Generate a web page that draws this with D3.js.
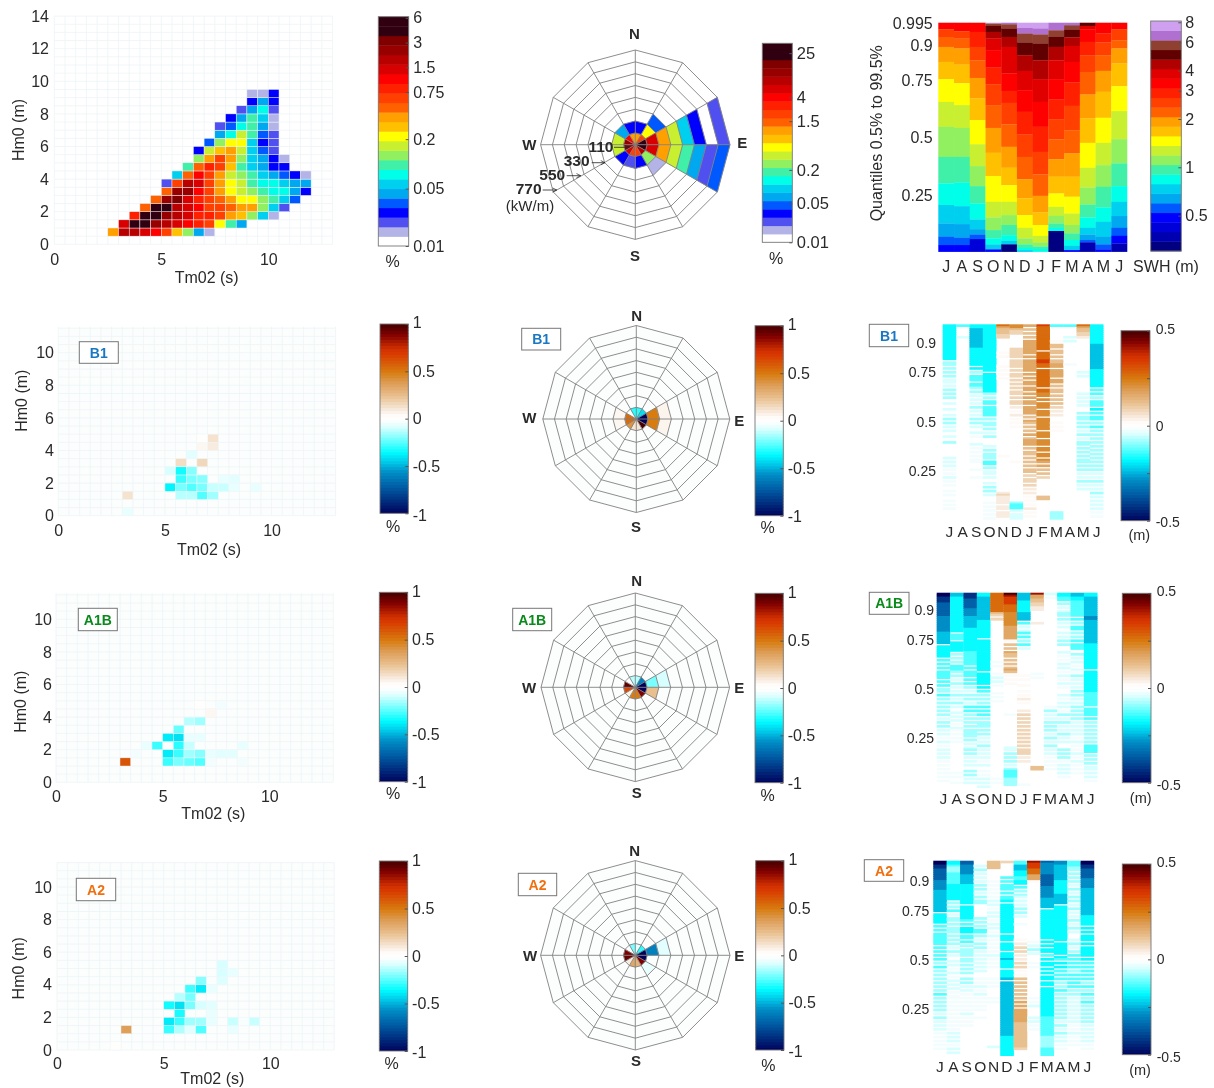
<!DOCTYPE html>
<html><head><meta charset="utf-8">
<script src="https://cdn.jsdelivr.net/npm/d3@7/dist/d3.min.js"></script>
<style>
html,body{margin:0;padding:0;background:#fff}
svg{display:block;filter:blur(0.4px)}
text{font-family:"Liberation Sans",Arial,sans-serif;fill:#2a2a2a}
.domain{display:none}
</style></head><body><svg id="c" width="1214" height="1088"></svg>
<script>
// ---------- DATA ----------
const months = ["J","A","S","O","N","D","J","F","M","A","M","J"];
const seqPalette = ["#ffffff","#b3b3e8","#5050f0","#0000ff","#0058ff","#00a8f0","#00d0f0","#00ffe8","#40f0a8","#90f060","#c8f030","#ffff00","#ffc000","#ffa000","#ff6000","#ff4000","#ff2000","#ff0000","#d80000","#b80000","#980000","#800000","#300010","#300010"];
const swhPalette = ["#000080","#0000b0","#0000d8","#0000ff","#0058ff","#00a8f0","#00d0f0","#00ffe8","#40f0a8","#90f060","#c8f030","#ffff00","#ffc000","#ffa000","#ff6000","#ff4000","#ff2000","#ff0000","#e00000","#b00000","#600000","#904030","#b070d0","#d0a0f0"];
const divStops = [-1,-0.85,-0.7,-0.55,-0.45,-0.35,-0.25,-0.15,-0.08,-0.03,0,0.04,0.1,0.25,0.4,0.5,0.7,0.75,0.9,1];
const divColors = ["#00005a","#003080","#0060a8","#0090c8","#00c8e8","#00fbff","#50ffff","#a0ffff","#d8ffff","#f4fdfe","#ffffff","#fffdfb","#f8ece0","#e8c090","#dc9a50","#d87c10","#d83a00","#d03000","#800000","#480000"];

// joint distribution, top panel: class index per cell, by Hm0 row
const hmLower = [0.5,1,1.5,2,2.5,3,3.5,4,4.5,5,5.5,6,6.5,7,7.5,8,8.5,9];
const tmStart = [2.5,3,3.5,4,4.5,5,5,5.5,6,6.5,6.5,7,7.5,7.5,8,8.5,9,9];
const scatterLevels = [
 [13,19,19,18,17,15,12,9,5,1],
 [18,22,22,20,19,18,17,16,15,11,8,5],
 [16,22,22,20,19,18,16,16,15,13,12,9,6,1],
 [14,22,22,19,18,17,15,15,14,13,13,9,6,2],
 [14,20,21,18,16,15,14,13,11,11,9,8,6,4],
 [14,20,20,17,15,13,11,10,9,8,7,7,5,3],
 [2,15,19,18,15,13,11,10,8,7,7,6,5,5],
 [6,14,17,15,13,10,9,8,6,5,4,3,1],
 [8,14,16,15,12,8,6,5,3,3],
 [9,13,15,13,9,6,5,3,1],
 [3,10,12,13,10,6,4,2],
 [4,9,11,11,6,3,2],
 [5,7,10,8,4,2],
 [2,4,7,8,5,1],
 [3,5,8,6,1],
 [2,5,7,2],
 [3,5,3],
 [1,1,3]
];
// joint distribution, differences [Tm02, Hm0, %]
const scatterB1 = [[3,1,0.13],[3,0,-0.05],[5.5,1,-0.12],[6,1,-0.12],[6.5,1,-0.25],[7,1,-0.15],[5,1.5,-0.36],[5.5,1.5,-0.2],[6,1.5,-0.25],[6.5,1.5,-0.2],[7,1.5,-0.1],[7.5,1.5,-0.1],[8,1.5,-0.05],[9,1.5,-0.05],[5.5,2,-0.28],[6,2,-0.2],[6.5,2,-0.18],[7.5,2,-0.05],[8,2,-0.06],[5,2.5,-0.08],[5.5,2.5,-0.33],[6,2.5,-0.18],[5.5,3,0.15],[6.5,3,0.17],[6,3.5,-0.06],[6.5,4,0.06],[7,4,0.1],[7,4.5,0.13],[6.5,4.5,0.02]];
const scatterA1B = [[3,1,0.62],[5,1,-0.28],[5.5,1,-0.2],[6,1,-0.22],[6.5,1,-0.25],[7,1,-0.03],[8.5,1,-0.03],[5,1.5,-0.38],[5.5,1.5,-0.28],[6,1.5,-0.15],[6.5,1.5,-0.18],[7,1.5,-0.05],[7.5,1.5,-0.06],[8,1.5,-0.06],[3.5,1.5,-0.03],[4,2,-0.05],[4.5,2,-0.28],[5.5,2,-0.3],[6,2,-0.1],[8.5,2,-0.05],[5,2.5,-0.38],[5.5,2.5,-0.4],[6,2.5,-0.05],[6.5,2.5,-0.05],[5.5,3,-0.22],[6,3.5,-0.12],[6.5,3.5,-0.15],[7,4,0.06],[6.5,4.5,0.02],[7.5,4.5,-0.03]];
const scatterA2 = [[3,1,0.38],[2.5,0,0.03],[5,1,-0.28],[5.5,1,-0.13],[6,1,-0.06],[6.5,1,-0.25],[8,1,-0.05],[5,1.5,-0.38],[5.5,1.5,-0.28],[6,1.5,-0.15],[6.5,1.5,-0.15],[7,1.5,-0.05],[8,1.5,-0.1],[9,1.5,-0.1],[8.5,1.5,-0.02],[5.5,2,-0.32],[7,2,-0.05],[5,2.5,-0.33],[5.5,2.5,-0.4],[6,2.5,-0.2],[6.5,2.5,-0.08],[7,2.5,-0.06],[5.5,3,-0.12],[6,3,-0.2],[6,3.5,-0.27],[6.5,3.5,-0.38],[7,3.5,-0.05],[6.5,4,-0.18],[7.5,4,-0.07],[7.5,4.5,-0.08],[8,4.5,-0.05],[7.5,5,-0.08]];

// polar: rows are power rings (110 kW/m wide), columns are 30-degree sectors clockwise from north
const ringValues = [110,220,330,440,550,660,770,880];
const polarLevels = [
 [13,15,22,22,19,15,15,18,20,20,17,13],
 [3,11,18,18,9,3,2,3,10,10,5,3],
 [0,4,13,13,1,0,0,0,0,0,0,0],
 [0,0,10,10,0,0,0,0,0,0,0,0],
 [0,0,6,8,0,0,0,0,0,0,0,0],
 [0,0,3,5,0,0,0,0,0,0,0,0],
 [0,0,0,2,0,0,0,0,0,0,0,0],
 [0,0,2,4,0,0,0,0,0,0,0,0]
];
const polarB1 = [
 [-0.3,-0.4,-1,-1,1,0.12,0.12,0.42,0.55,0.55,0,-0.3],
 [0,0,0.5,0.5,0,0,0,0,0.06,0.06,0,0],
 [0,0,0.07,0.07,0,0,0,0,0,0,0,0]
];
const polarA1B = [
 [-0.12,-0.6,-1,-1,0.9,0.5,0.5,0.08,0.65,0.95,0.02,-0.12],
 [0,0,-0.2,0.25,0,0,0,0,0,0,0,0],
 [0,0,-0.08,0,0,0,0,0,0,0,0,0]
];
const polarA2 = [
 [-0.05,-0.3,-1,-1,0.9,0.3,0.35,0.1,0.95,0.9,0,-0.2],
 [0,0.04,-0.6,0,-0.05,0,0,0,0,0,0,0],
 [0,0,-0.06,0,0,0,0,0,0,0,0,0]
];

// monthly quantiles: SWH class per band, and the lower quantile of each band
const heatLevels = [
 [17,15,14,13,12,11,10,9,8,7,6,5,4,3],
 [17,15,14,13,12,11,10,9,8,7,6,5,4,3],
 [17,16,15,14,13,12,11,10,9,8,7,6,5,4,2],
 [23,21,20,19,18,17,16,15,14,13,12,11,10,9,8,7,6,3],
 [22,21,20,19,18,17,16,15,14,13,12,11,10,9,8,7,6,0],
 [23,22,21,20,19,18,17,16,15,14,13,12,11,10,9,8,7,6],
 [23,22,21,20,19,18,17,16,15,14,13,12,11,10,9,8,7],
 [22,21,20,19,18,17,16,15,14,13,12,11,10,9,8,7,0],
 [22,21,20,19,18,17,16,15,14,13,12,11,10,9,8,7,6,3],
 [20,18,17,16,15,14,13,12,11,10,9,8,7,6,5,4,1],
 [17,16,15,14,13,12,11,10,9,8,7,6,5,4,3],
 [17,15,14,13,12,11,10,9,8,7,6,5,4,3,1]
];
const heatBreaks = [
 [.967,.933,.890,.825,.750,.651,.543,.412,.297,.203,.123,.065,.029,0],
 [.958,.926,.883,.813,.732,.637,.538,.412,.300,.198,.120,.061,.029,0],
 [.955,.890,.832,.755,.666,.572,.467,.372,.285,.210,.140,.098,.075,.055,0],
 [.991,.981,.955,.926,.876,.800,.728,.637,.538,.430,.329,.217,.149,.094,.058,.032,.010,0],
 [.988,.970,.933,.890,.774,.699,.647,.553,.456,.365,.289,.217,.159,.116,.072,.048,.032,0],
 [.972,.948,.909,.854,.786,.702,.608,.509,.412,.315,.232,.159,.104,.058,.032,.017,.007,0],
 [.970,.944,.904,.832,.750,.651,.543,.434,.336,.243,.171,.116,.069,.041,.023,.012,0],
 [.962,.933,.890,.832,.750,.661,.576,.488,.402,.326,.253,.195,.156,.123,.104,.090,0],
 [.984,.965,.931,.894,.825,.735,.634,.528,.427,.326,.239,.166,.116,.080,.051,.026,.007,0],
 [.981,.967,.912,.854,.781,.683,.579,.473,.365,.279,.205,.149,.104,.075,.051,.041,0],
 [.948,.909,.854,.786,.695,.582,.473,.376,.282,.192,.130,.065,.032,.010,0],
 [.967,.919,.883,.818,.719,.611,.489,.384,.285,.217,.155,.104,.069,.036,0]
];
// difference in metres, coded by letter for each percentile row from top to bottom
const stripeKeys = ".abcdefghijABCDEFGHIJ";
const stripeValues = [0,-0.015,-0.04,-0.075,-0.125,-0.17,-0.23,-0.28,-0.35,-0.42,-0.5,0.025,0.05,0.09,0.125,0.175,0.225,0.275,0.35,0.425,0.5];
const stripesB1 = [
 "eeeeeeeeee eeeeeeee.c c.c.c.c.bb .b.c.c.c.. b..b..b.c. c.b.b..b.. c.......b. b.b.a.a.b. a.a..a.a.. a.a.a.....",
 "d.....b... .......... .......... .......... .......... .......... .......... .......... .......... ..........",
 "eeffffffff ffeeeeeeee e.e.c.ddd. ddc.c.b.b. b.c.b.b.c. c.b..b.a.. .b.a.a.a.a a...a...a. .......... ..........",
 "eeeeeeeeee eeeeeeeeee eeee.eeeee eeeeec.c.d d.ddddd.c. cc.c.b.c.. ..b.c.ccc. dd.c.bb.b. .b.c.c.b.. .a.a.a.a.a",
 "GEDDDCC... ....A.A... .A.A.A.A.. .......... .......... .......... .......A.. .......... ......BCBB BB.BB.BBB.",
 "FFDCC..... ..CCCCC.CC CC.C.CC.C. C.C.CC.C.C C.B.A.B.A. A.A....... .......... A......... .......... .cdddb.bbb",
 "E.D.D.D.EE EEEEE.E.EE EEEE.E.E.E E.EE.E.E.E E.EEEE.D.E D.D.D.E.DE EE.D.DD.D. D.D.DD.C.C C.C.B.B.A. A.A.B.A.A.",
 "HGGGGGGGGG GGG.GGGGHH GG.GGGGGGG GG.GGFF.F. FFF.FFF.FF FFFF.FFF.F FF.FF.FF.F E.E.D.D.C. ........DD ..........",
 "d.......A. DD.DD.D.DD EE.EEEE.EE .D.DD.D.D. D.C.B.B... A.A.A..... .......... .......... .......... ......cccc",
 "d.....b.b. .......... a......... .......... .......... .......... .......... .......... .......... ..........",
 "GEDDCCB... .......... ....b.b... .....b.b.b .b...c.cc. c.c.b.c.b. cc.c.c.c.c c.c.c.b.b. c.b.b..... ..........",
 "eeeeeeeeee ffffffffff fffeeeeeee ee.d.d.c.d dd.e.d.dd. c.d.c.c.c. c.c.c.c.c. c.c.c.b.b. c.b.b.c.b. b.b.b.a.a."
];
const stripesA1B = [
 "jjiiihhhhh hhgggggggg ffffff.eee eee.d.d.d. dddd.d.d.c c.d.c.c.c. c.c.b.c.c. b.b.a.b.a. b.b.b.a.a. a.a.a.a...",
 "ffeeeeeeee eeeeeeeeee .ddd.eeeee .c.c.c.ddd c.c.b.c.b. b.c.b.c.b. .b.b.b.a.b a.a.a.a... .......... ..a.a..a..",
 "iiihhhhhgg ggffffffee eeeeeeeeee ddddddd.d. ddd.d.d.c. b.c.c.b.d. d.c.c.c.c. cccc.c.b.b c.c.b.b.b. .c.c.b.b..",
 "eeffffffff ffffeeeeee eee.eeeeee eeeeeeeeee .eeeeee.e. d.c.c.c.d. d.d.c.ccc. c.c.b.b.c. b.b.b.a.b. .a.a.b.b.b",
 "GGGGGGGGGG DCBC...... .......... .....a.a.. .a.b.b.a.. .a.a.a.... .......... .......... .......... .....a.a..",
 "JIHHHHGGGG FFFFFFFEEE EEEEA.D.D. EDD.D.D.DE D.A.A.A... .......... ..a....... .........b b.c.c.c.b. cddddcccc.",
 "ffffeeeeee ffff.d.b.b d.d.c.d.b. .......... ..A.A..A.. A.A.B.A... B.C.C.C.C. C.C.C.C.C. CCC.B.B... ........a.",
 "IEEDDCCBB. .....B.... .......... .......... .a.a...... .......... .......... .......... .........D D.........",
 "b.a....... .......... .......... .......... .......... ........a. c.b.b.c.c. c.b.c.b.c. b.b.a.a.a. a.........",
 "eedd.c.b.b cc.c.b.b.. b.b.c.c... b.a.a.b.b. a.b.a.b.a. ..b.a.b.b. a.c.b.c.b. b.c.b.b... c.c.c.a.b. b.b.a.....",
 "ffeedddddd dd.d.c.dd. c.c.d.ddd. .c.b.b.a.b a.c.b.b.b. c.c.b.b.c. c.c.c.b.b. b.b.a.b.a. a.b.a.b.a. a.a.......",
 "eeffffffff ffggffffff ffffffeeee eeeeeeeee. eeeeeeeeee eddddddd.d ddd.d.c.c. c.c.c.c.dd dd.c.c.c.b b.b.b.a..."
];
const stripesA2 = [
 "jjiihhhhhh gggggfffff ffffff.eee ee.d.d.ddd ddd.d.d.d. d.c.d.c.c. c.c.c.c.d. c.c.c.c.b. c.b.b.b.a. a.a.a.a...",
 "eedcccdddd ddeeeeeeee .c.c.d.b.c c.c.ccc.c. c.c.b.c.b. .b.b.a.b.a .b.b.b.a.a a.a.a.a.a. a.a.a.a.b. b.b.a.b.b.",
 "hhgggggfff ffeeeeeeee ee.eeeeeee d.d.eee.dd .d.c.cccc. cc.c.c.c.. c.c.b.b.a. a.a.a.a.b. a.a.a..... ..........",
 "..b.c.b.b. b.c.c.b.c. cc.......c .c.c.dd.c. b.c.c.b.b. b.b.b.b... a.a.b.a.b. a.a.a.a... a......... ..........",
 "DDDD...... a.a.a.a.a. b.b.a.b.b. a.b.b.a.b. a.a.a.a.b. a.a.a..... a.a.a..... a.a....... .......... .....b....",
 "C.......d. d.ddd.d.dd e.eeeeeeee eeeeeee.ee e.eeee.eee feeee.eeee f.ffffffff ffffffffff ffffffffff eeeeeeeeee",
 "ddfffeeedd ee.d.c.cb. b.b.c.c.b. ..a....... A.B.C.C.B. B.C.C.A.A. D.D.D.D.D. D.E.E.EEEE EEEDDDDDDD DDDDDDC...",
 "IHHHGGGEEE A......... .......... .......... .a.b.c.b.. ..a.a..... .......... a.a.b..... b.b.a.a... ..........",
 "hgggggghhh hhhggggggf ffff.eeeee eeeeeeeeee .e.e.ee.d. e.ee.e.e.e e.ee.eeeee eeeeeeeeee dddddddddd ccccccdddd",
 "ggffffffff eeeeeeefff ff.eeeeeee eeeeeeeeee e.eeeeee.e d.e.e.d.d. d.c.c.d.c. c.c.c.c.c. c.b.c.b.c. b.b.a.a...",
 "dddcc.c.c. c.b.c.b.c. c.b.c.b.b. c.b.c.b... b.c.b.c.d. d.d.d.c.d. d.d.d.c.c. b.b.b.b.b. b.b.a.a.b. a.a.a.....",
 "jjiihhhhhg ggggffffff ffffffffee eee.e.e.ee e.e.eeeee. e.d.d.d.d. d.c.d.c.d. c.d.c.c.c. c.c.b.b.b. b.b.a.a..."
];

// ---------- HELPERS ----------
const svg = d3.select("#c");
const divColor = d3.scaleLinear().domain(divStops).range(divColors).clamp(true);
const seqLevels = d3.range(24);

function label(x,y,t,o={}){
  const s = svg.append("text").attr("text-anchor",o.anchor||"middle").attr("dominant-baseline","central")
    .attr("font-size",o.size||16).attr("font-weight",o.bold?"bold":null).text(t);
  if(o.fill) s.style("fill",o.fill);
  if(o.rot) s.attr("transform",`translate(${x},${y}) rotate(${o.rot})`); else s.attr("x",x).attr("y",y);
}
function tagBox(x0,y0,x1,y1,t,c){
  svg.append("rect").attr("x",x0).attr("y",y0).attr("width",x1-x0).attr("height",y1-y0).attr("fill","#fff").attr("stroke","#777").attr("stroke-width",1);
  label((x0+x1)/2,(y0+y1)/2,t,{bold:true,size:14,fill:c});
}
function styleAxis(g,size){ g.selectAll("text").attr("font-size",size).style("font-family",'"Liberation Sans",Arial,sans-serif').style("fill","#2a2a2a"); g.attr("font-family",null); }

function scatterPanel(p){
  const x = d3.scaleLinear().domain([0,13]).range([p.x0,p.x0+13*p.kx]);
  const y = d3.scaleLinear().domain([0,p.ymax]).range([p.y0,p.y0-p.ymax*p.ky]);
  const g = svg.append("g");
  if(p.bg) g.append("rect").attr("x",x(0)).attr("y",y(p.ymax)).attr("width",x(13)-x(0)).attr("height",y(0)-y(p.ymax)).attr("fill",p.bg);
  const xs = d3.range(0,13.01,0.5), ys = d3.range(0,p.ymax+0.001,0.5);
  g.selectAll(".gx").data(xs).join("line").attr("x1",d=>x(d)).attr("x2",d=>x(d)).attr("y1",y(p.ymax)).attr("y2",y(0)).attr("stroke","#edf4f6").attr("stroke-width",0.8);
  g.selectAll(".gy").data(ys).join("line").attr("y1",d=>y(d)).attr("y2",d=>y(d)).attr("x1",x(0)).attr("x2",x(13)).attr("stroke","#edf4f6").attr("stroke-width",0.8);
  g.selectAll(".cell").data(p.cells).join("rect")
    .attr("x",d=>x(d[0])).attr("y",d=>y(d[1]+0.5)).attr("width",x(0.5)-x(0)).attr("height",y(0)-y(0.5))
    .attr("fill",d=>p.color(d[2])).attr("stroke","#f2f6f8").attr("stroke-width",0.45);
  const ax = svg.append("g").attr("transform",`translate(0,${p.y0})`).call(d3.axisBottom(x).tickValues([0,5,10]).tickSize(0).tickPadding(p.xpad));
  styleAxis(ax,16);
  const ay = svg.append("g").attr("transform",`translate(${p.x0},0)`).call(d3.axisLeft(y).tickValues(p.yticks).tickSize(0).tickPadding(p.ypad));
  styleAxis(ay,16);
  label(p.xl[0],p.xl[1],"Tm02 (s)");
  label(p.yl[0],p.yl[1],"Hm0 (m)",{rot:-90});
}
function levelBar(p){
  const y = d3.scaleBand().domain(seqLevels).range([p.y1,p.y0]).paddingInner(0);
  svg.append("g").selectAll("rect").data(seqLevels).join("rect")
    .attr("x",p.x0).attr("width",p.x1-p.x0).attr("y",d=>y(d)).attr("height",y.bandwidth()+0.4).attr("fill",d=>p.palette[d]);
  svg.append("rect").attr("x",p.x0).attr("y",p.y0).attr("width",p.x1-p.x0).attr("height",p.y1-p.y0).attr("fill","none").attr("stroke","#777").attr("stroke-width",0.9);
  const s = d3.scaleLog().domain(p.domain).range([p.y1,p.y0]);
  const a = svg.append("g").attr("transform",`translate(${p.x1},0)`).call(d3.axisRight(s).tickValues(p.ticks).tickFormat(d=>d).tickSizeInner(-3).tickSizeOuter(0).tickPadding(p.pad||5));
  a.selectAll("line").attr("stroke","#555");
  styleAxis(a,p.size||16);
}
function divBar(p){
  const y = d3.scaleLinear().domain(p.domain).range([p.y1,p.y0]);
  const n = 64, vals = d3.range(n).map(i=>p.domain[0]+(i+0.5)/n*(p.domain[1]-p.domain[0]));
  const h = (p.y1-p.y0)/n;
  svg.append("g").selectAll("rect").data(vals).join("rect")
    .attr("x",p.x0).attr("width",p.x1-p.x0).attr("y",d=>y(d)-h/2).attr("height",d=>Math.min(h+1.2,p.y1-(y(d)-h/2))).attr("fill",d=>divColor(d/p.domain[1]));
  svg.append("rect").attr("x",p.x0).attr("y",p.y0).attr("width",p.x1-p.x0).attr("height",p.y1-p.y0).attr("fill","none").attr("stroke","#777").attr("stroke-width",0.9);
  const t = p.domain[1];
  const a = svg.append("g").attr("transform",`translate(${p.x1},0)`).call(d3.axisRight(y).tickValues([-t,-t/2,0,t/2,t]).tickFormat(d=>d).tickSizeInner(-3).tickSizeOuter(0).tickPadding(p.pad||5));
  a.selectAll("line").attr("stroke","#555");
  if(p.labelOnlyEnds) a.selectAll("text").filter(d=>Math.abs(d)===t/2).remove();
  if(p.labelNudge) a.selectAll("text").attr("transform",d=>`translate(0,${d===t?-p.labelNudge:d===-t?p.labelNudge:0})`);
  styleAxis(a,p.size||16);
}
function polarPanel(p){
  const r = d3.scaleLinear().domain([0,880]).range([0,p.R]);
  const ang = d3.scaleLinear().domain([0,12]).range([0,2*Math.PI]);
  const pt = (v,s)=>[p.cx+r(v)*Math.sin(ang(s)), p.cy-r(v)*Math.cos(ang(s))];
  const line = d3.line();
  const g = svg.append("g");
  if(p.bg) g.append("path").attr("d",line(d3.range(12).map(s=>pt(880,s)))+"Z").attr("fill",p.bg);
  const bands=[];
  p.rings.forEach((row,ri)=>row.forEach((v,s)=>{ if(v!==0) bands.push({ri,s,v}); }));
  g.selectAll(".band").data(bands).join("path")
    .attr("d",d=>{ const lo=ri=>ri?ringValues[ri-1]:0, a=lo(d.ri), b=ringValues[d.ri];
       return line([pt(a,d.s),pt(b,d.s),pt(b,d.s+1),pt(a,d.s+1)])+"Z"; })
    .attr("fill",d=>p.color(d.v)).attr("stroke",d=>p.color(d.v)).attr("stroke-width",0.3);
  g.selectAll(".ring").data(ringValues).join("path").attr("d",v=>line(d3.range(12).map(s=>pt(v,s)))+"Z").attr("fill","none").attr("stroke","#808080").attr("stroke-width",0.9);
  g.selectAll(".spoke").data(d3.range(12)).join("path").attr("d",s=>line([pt(0,s),pt(880,s)])).attr("stroke","#808080").attr("stroke-width",0.9).attr("fill","none");
  ["N","E","S","W"].forEach((t,i)=>label(p.lab[i][0],p.lab[i][1],t,{bold:true,size:15}));
}
function stripePanel(p){
  const x = d3.scaleBand().domain(d3.range(12)).range([p.x0,p.x1]);
  const y = d3.scaleLinear().domain([0,p.qtop]).range([p.y0,p.y1]);
  const code = d3.scaleOrdinal().domain(stripeKeys.split("")).range(stripeValues);
  const g = svg.append("g");
  p.cols.forEach((str,c)=>{
    const s = str.replace(/ /g,"").split("");
    const q = i=>p.qtop*(1-i/s.length);
    g.append("g").selectAll("rect").data(s.map((k,i)=>({k,i})).filter(d=>d.k!==".")).join("rect")
      .attr("x",x(c)).attr("width",x.bandwidth()+0.2)
      .attr("y",d=>y(q(d.i))).attr("height",d=>y(q(d.i+1))-y(q(d.i))+0.7)
      .attr("fill",d=>divColor(code(d.k)/0.5));
  });
  const a = svg.append("g").attr("transform",`translate(0,${p.y0})`).call(d3.axisBottom(x).tickFormat(i=>months[i]).tickSize(0).tickPadding(p.mpad));
  styleAxis(a,15.5);
  const b = svg.append("g").attr("transform",`translate(${p.labx},${p.nudge||0})`).call(d3.axisLeft(y).tickValues([0.25,0.5,0.75,0.9]).tickFormat(d=>d).tickSize(0).tickPadding(0));
  styleAxis(b,14);
}

// ---------- COLUMN 1: JOINT DISTRIBUTIONS ----------
const topCells = [];
scatterLevels.forEach((row,i)=>row.forEach((lv,j)=>topCells.push([tmStart[i]+j*0.5,hmLower[i],lv])));
scatterPanel({x0:54.3,kx:21.4,y0:244.3,ky:16.3,ymax:14,yticks:[0,2,4,6,8,10,12,14],cells:topCells,color:l=>seqPalette[l],xpad:9,ypad:5.3,xl:[206.7,277.7],yl:[18,130]});
levelBar({x0:378.3,x1:408.7,y0:16.7,y1:246,palette:seqPalette,domain:[0.01,6.2],ticks:[0.01,0.05,0.2,0.75,1.5,3,6],pad:4.5});
label(392.7,261.7,"%");

const diffScatter = (x0,y0,cells,xpad,ypad,xl,yl,top)=>scatterPanel({x0,kx:21.33,y0,ky:16.3,ymax:top,yticks:[0,2,4,6,8,10],cells,color:v=>divColor(v),bg:"#fcfefe",xpad,ypad,xl,yl});
diffScatter(58.3,515.7,scatterB1,8.6,4.3,[209,549.3],[21.7,400.7],11.6);
divBar({x0:380,x1:408.3,y0:324,y1:513.3,domain:[-1,1],pad:4.4,labelNudge:1.8});
label(393,526.7,"%");
tagBox(79.3,341.7,118.3,363.3,"B1","#1a78c2");

diffScatter(56,782.3,scatterA1B,8.6,4,[213.3,813.3],[20,701.7],11.6);
divBar({x0:379.3,x1:407.7,y0:592.3,y1:781.7,domain:[-1,1],pad:4.4,labelNudge:1});
label(393,793.3,"%");
tagBox(78.3,608.3,117.3,630.7,"A1B","#0a8a1a");

diffScatter(57,1050,scatterA2,7.6,5,[212.3,1078.3],[18.3,968.3],11.5);
divBar({x0:379.3,x1:407.7,y0:861,y1:1051,domain:[-1,1],pad:4.4,labelNudge:1});
label(391.7,1063,"%");
tagBox(76.3,878.3,115.7,900.7,"A2","#f07010");

// ---------- COLUMN 2: POLAR ----------
polarPanel({cx:635.3,cy:144.7,R:94.7,rings:polarLevels,color:l=>seqPalette[l],lab:[[634.3,33.3],[742.3,142.7],[635,255],[529.3,144.3]]});
levelBar({x0:762.3,x1:792.3,y0:43.3,y1:242.3,palette:seqPalette,domain:[0.01,37.6],ticks:[0.01,0.05,0.2,1.5,4,25],pad:4.5,size:16.5});
label(776,258.3,"%");
svg.append("defs").append("marker").attr("id","ah").attr("viewBox","0 0 8 8").attr("refX",7).attr("refY",4).attr("markerWidth",7).attr("markerHeight",7).attr("orient","auto").append("path").attr("d","M1 1L7 4L1 7").attr("fill","none").attr("stroke","#222").attr("stroke-width",1);
const ringNotes = [["110",601,146.7,614,629.3,147.3],["330",576.7,160.7,591.7,605,162.7],["550",552.3,174,566.7,580.7,175.7],["770",528.7,188.3,542.7,556.7,190]];
ringNotes.forEach(n=>{
  label(n[1],n[2],n[0],{bold:true,size:15.5});
  svg.append("line").attr("x1",n[3]).attr("x2",n[4]).attr("y1",n[5]).attr("y2",n[5]).attr("stroke","#222").attr("stroke-width",0.8).attr("marker-end","url(#ah)");
});
label(530,205.7,"(kW/m)",{size:15});

polarPanel({cx:636.3,cy:419,R:93.5,rings:polarB1,color:v=>divColor(v),bg:"#fcfefe",lab:[[636.7,315],[739.3,420],[636,526],[529.3,417.3]]});
divBar({x0:755,x1:783.3,y0:325.7,y1:515.7,domain:[-1,1],pad:4.4,labelNudge:1});
label(767.7,527.7,"%");
tagBox(521.7,328.3,560.7,350,"B1","#1a78c2");

polarPanel({cx:635.3,cy:687.3,R:94.3,rings:polarA1B,color:v=>divColor(v),bg:"#fcfefe",lab:[[636.7,580],[739.3,687.7],[636.7,792.7],[529,687.3]]});
divBar({x0:755,x1:783.3,y0:593.3,y1:782.7,domain:[-1,1],pad:4.4,labelNudge:1});
label(767.7,795,"%");
tagBox(512.7,608.3,551.7,630.7,"A1B","#0a8a1a");

polarPanel({cx:635.3,cy:955.3,R:94.7,rings:polarA2,color:v=>divColor(v),bg:"#fcfefe",lab:[[634.7,850],[739.3,955],[636,1060],[530,955.7]]});
divBar({x0:755.7,x1:784,y0:860.7,y1:1050,domain:[-1,1],pad:4.4,labelNudge:1});
label(768.3,1065.7,"%");
tagBox(518.3,873.3,556.7,895.7,"A2","#f07010");

// ---------- COLUMN 3: MONTHLY QUANTILES ----------
{
  const x = d3.scaleBand().domain(d3.range(12)).range([938.3,1127]);
  const y = d3.scaleLinear().domain([0,0.995]).range([251.7,22.7]);
  const g = svg.append("g");
  heatLevels.forEach((lv,c)=>{
    const bands = lv.map((l,k)=>({l,hi:k?heatBreaks[c][k-1]:0.995,lo:heatBreaks[c][k]}));
    g.append("g").selectAll("rect").data(bands).join("rect")
      .attr("x",x(c)).attr("width",x.bandwidth()+0.3).attr("y",d=>y(d.hi)).attr("height",d=>y(d.lo)-y(d.hi)+0.2).attr("fill",d=>swhPalette[d.l]);
  });
  styleAxis(svg.append("g").attr("transform","translate(0,251.7)").call(d3.axisBottom(x).tickFormat(i=>months[i]).tickSize(0).tickPadding(8.6)),16);
  styleAxis(svg.append("g").attr("transform","translate(932.7,0.8)").call(d3.axisLeft(y).tickValues([0.25,0.5,0.75,0.9,0.995]).tickFormat(d=>d).tickSize(0).tickPadding(0)),16);
  label(876.7,133.3,"Quantiles 0.5% to 99.5%",{rot:-90});
  levelBar({x0:1150.7,x1:1181.3,y0:21,y1:251,palette:swhPalette,domain:[0.301,8.15],ticks:[0.5,1,2,3,4,6,8],pad:4,size:16});
  label(1166,266,"SWH (m)");
}
stripePanel({x0:942.7,x1:1103.3,y0:519,y1:324.3,qtop:0.99,cols:stripesB1,labx:936,mpad:6.6,nudge:1});
divBar({x0:1121,x1:1150,y0:330.7,y1:520.7,domain:[-0.5,0.5],pad:5.7,size:14,labelOnlyEnds:true,labelNudge:1.5});
label(1139.3,535,"(m)",{size:14.5});
tagBox(869.3,324.3,908.7,346.7,"B1","#1a78c2");

stripePanel({x0:936.7,x1:1097.3,y0:787.3,y1:592.7,qtop:0.99,cols:stripesA1B,labx:934,mpad:5.6,nudge:0});
divBar({x0:1122.3,x1:1151,y0:593.3,y1:782.7,domain:[-0.5,0.5],pad:5.7,size:14,labelOnlyEnds:true,labelNudge:2});
label(1140.7,798.3,"(m)",{size:14.5});
tagBox(869.3,592.3,909,614.3,"A1B","#0a8a1a");

stripePanel({x0:933.3,x1:1094,y0:1055.3,y1:860.7,qtop:0.99,cols:stripesA2,labx:929.3,mpad:5.6,nudge:2.7});
divBar({x0:1122.3,x1:1151,y0:864,y1:1054.7,domain:[-0.5,0.5],pad:5.7,size:14,labelOnlyEnds:true,labelNudge:2});
label(1140,1069.7,"(m)",{size:14.5});
tagBox(864.3,859.7,903.7,881.3,"A2","#f07010");
</script></body></html>
